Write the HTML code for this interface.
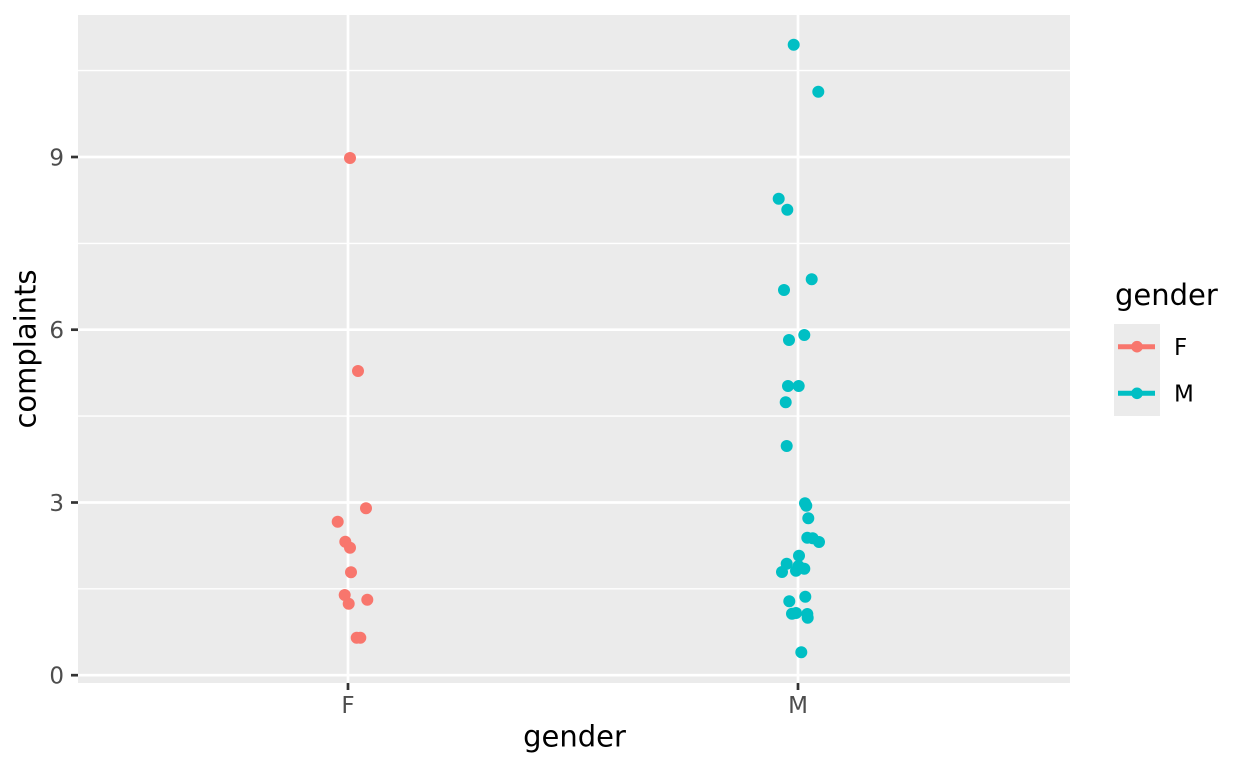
<!DOCTYPE html>
<html><head><meta charset="utf-8"><style>
html,body{margin:0;padding:0;background:#fff;}
svg{display:block;font-family:"DejaVu Sans","Liberation Sans",sans-serif;}
</style></head><body>
<svg width="1248" height="768" viewBox="0 0 1248 768" xmlns="http://www.w3.org/2000/svg">
<rect x="0" y="0" width="1248" height="768" fill="#fff"/>
<rect x="78" y="15" width="992" height="668" fill="#EBEBEB"/>
<g stroke="#fff" stroke-width="1.4">
<line x1="78" x2="1070" y1="588.8" y2="588.8"/>
<line x1="78" x2="1070" y1="416.1" y2="416.1"/>
<line x1="78" x2="1070" y1="243.4" y2="243.4"/>
<line x1="78" x2="1070" y1="70.6" y2="70.6"/>
</g>
<g stroke="#fff" stroke-width="2.7">
<line x1="78" x2="1070" y1="675.2" y2="675.2"/>
<line x1="78" x2="1070" y1="502.5" y2="502.5"/>
<line x1="78" x2="1070" y1="329.7" y2="329.7"/>
<line x1="78" x2="1070" y1="157" y2="157"/>
<line x1="348" x2="348" y1="15" y2="683"/>
<line x1="798" x2="798" y1="15" y2="683"/>
</g>
<g fill="#F8766D">
<circle cx="350" cy="158" r="6"/>
<circle cx="358" cy="371" r="6"/>
<circle cx="366" cy="508.3" r="6"/>
<circle cx="337.7" cy="521.7" r="6"/>
<circle cx="345.3" cy="541.7" r="6"/>
<circle cx="350" cy="547.7" r="6"/>
<circle cx="351" cy="572.3" r="6"/>
<circle cx="344.7" cy="595" r="6"/>
<circle cx="348.7" cy="603.7" r="6"/>
<circle cx="367.3" cy="599.7" r="6"/>
<circle cx="356.7" cy="637.7" r="6"/>
<circle cx="360.3" cy="637.7" r="6"/>
</g>
<g fill="#00BFC4">
<circle cx="793.7" cy="44.7" r="6"/>
<circle cx="818.3" cy="91.7" r="6"/>
<circle cx="778.7" cy="198.7" r="6"/>
<circle cx="787.3" cy="209.7" r="6"/>
<circle cx="811.7" cy="279.3" r="6"/>
<circle cx="784" cy="290" r="6"/>
<circle cx="804.3" cy="335" r="6"/>
<circle cx="789" cy="340" r="6"/>
<circle cx="788" cy="386" r="6"/>
<circle cx="798.7" cy="386" r="6"/>
<circle cx="785.7" cy="402.3" r="6"/>
<circle cx="786.7" cy="446" r="6"/>
<circle cx="805" cy="503.3" r="6"/>
<circle cx="806.3" cy="505.7" r="6"/>
<circle cx="808.3" cy="518.3" r="6"/>
<circle cx="807.3" cy="537.7" r="6"/>
<circle cx="812.7" cy="538.3" r="6"/>
<circle cx="819" cy="542" r="6"/>
<circle cx="799" cy="555.7" r="6"/>
<circle cx="786.7" cy="563.7" r="6"/>
<circle cx="782" cy="572" r="6"/>
<circle cx="796" cy="570.7" r="6"/>
<circle cx="804.3" cy="568.7" r="6"/>
<circle cx="798.5" cy="566" r="6"/>
<circle cx="805.3" cy="596.7" r="6"/>
<circle cx="789.3" cy="601.3" r="6"/>
<circle cx="792" cy="613.7" r="6"/>
<circle cx="796" cy="613" r="6"/>
<circle cx="807.3" cy="614" r="6"/>
<circle cx="807.7" cy="617.7" r="6"/>
<circle cx="801.3" cy="652.3" r="6"/>
</g>
<g stroke="#333" stroke-width="2.7">
<line x1="71" x2="78" y1="675.2" y2="675.2"/>
<line x1="71" x2="78" y1="502.5" y2="502.5"/>
<line x1="71" x2="78" y1="329.7" y2="329.7"/>
<line x1="71" x2="78" y1="157" y2="157"/>
<line x1="348" x2="348" y1="683" y2="690"/>
<line x1="798" x2="798" y1="683" y2="690"/>
</g>
<g fill="#4D4D4D" font-size="23" text-anchor="end">
<text x="64" y="683.5">0</text>
<text x="64" y="510.8">3</text>
<text x="64" y="338">6</text>
<text x="64" y="165.3">9</text>
</g>
<g fill="#4D4D4D" font-size="23" text-anchor="middle">
<text x="348" y="713">F</text>
<text x="798" y="713">M</text>
</g>
<text x="574.5" y="746.5" font-size="29" text-anchor="middle" fill="#000">gender</text>
<text transform="translate(35.5,349) rotate(-90)" font-size="29" text-anchor="middle" fill="#000">complaints</text>
<text x="1115" y="305" font-size="29" fill="#000">gender</text>
<rect x="1114" y="324" width="46" height="92" fill="#EBEBEB"/>
<line x1="1118" x2="1155" y1="346.7" y2="346.7" stroke="#F8766D" stroke-width="5"/>
<circle cx="1137" cy="346.7" r="5.8" fill="#F8766D"/>
<line x1="1118" x2="1155" y1="393.3" y2="393.3" stroke="#00BFC4" stroke-width="5"/>
<circle cx="1137" cy="393.3" r="5.8" fill="#00BFC4"/>
<g fill="#000" font-size="23">
<text x="1174" y="355">F</text>
<text x="1174" y="401.6">M</text>
</g>
</svg>
</body></html>
